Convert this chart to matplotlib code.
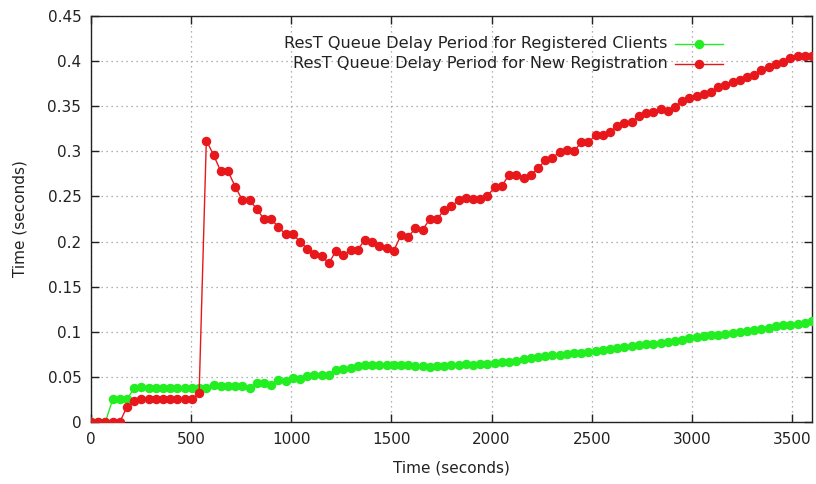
import numpy as np
import matplotlib
matplotlib.use("Agg")
import matplotlib.pyplot as plt
from matplotlib.ticker import FuncFormatter

# sample interval of the queue monitor (seconds)
STEP = 36

registered = [
    0, 0, 0, 0.025, 0.025, 0.025, 0.038, 0.039, 0.038, 0.038, 0.038, 0.038,
    0.038, 0.038, 0.038, 0.038,
    0.038, 0.041, 0.040, 0.040, 0.040, 0.040, 0.038, 0.043, 0.043, 0.041,
    0.047, 0.045, 0.049, 0.048, 0.051, 0.052, 0.052, 0.052,
    0.058, 0.059, 0.060, 0.062, 0.063, 0.063, 0.063, 0.063, 0.063, 0.063,
    0.063, 0.062, 0.062, 0.061, 0.062, 0.062, 0.063, 0.063, 0.064, 0.063,
    0.064, 0.064,
    0.065, 0.066, 0.067, 0.068, 0.070, 0.071, 0.072, 0.073, 0.074, 0.074,
    0.075, 0.076, 0.077, 0.078, 0.079,
    0.080, 0.081, 0.082, 0.083, 0.084, 0.085, 0.086, 0.087, 0.088, 0.089,
    0.090, 0.091,
    0.093, 0.094,
    0.095, 0.096, 0.097, 0.098, 0.099, 0.100, 0.101, 0.102, 0.103, 0.104,
    0.106, 0.107, 0.108, 0.109, 0.110, 0.112,
]

new_registration = [
    0, 0, 0, 0, 0, 0.017, 0.023, 0.025, 0.025, 0.025, 0.025, 0.025, 0.025,
    0.025, 0.025, 0.032,
    0.312, 0.296, 0.278, 0.278, 0.261, 0.246, 0.246, 0.236, 0.225, 0.225,
    0.216, 0.208, 0.208, 0.200, 0.192, 0.186, 0.184, 0.176,
    0.190, 0.185, 0.191, 0.191, 0.202, 0.200, 0.195, 0.193, 0.190,
    0.207, 0.205, 0.215, 0.213, 0.225, 0.225, 0.235,
    0.239, 0.246, 0.248, 0.247, 0.247, 0.251, 0.260, 0.262, 0.274, 0.274,
    0.270, 0.274, 0.281, 0.290, 0.293, 0.299, 0.302,
    0.300, 0.310, 0.310, 0.318, 0.318, 0.321, 0.328, 0.331, 0.332, 0.339,
    0.343, 0.344, 0.347, 0.345, 0.349, 0.356, 0.359,
    0.361, 0.364, 0.366, 0.371, 0.374, 0.377, 0.379, 0.382, 0.385, 0.390,
    0.393, 0.397, 0.399, 0.403, 0.406, 0.406, 0.406,
]

labels = [
    "ResT Queue Delay Period for Registered Clients",
    "ResT Queue Delay Period for New Registration",
]
colours = ["#22ee22", "#e8171b"]

x_green = np.arange(len(registered)) * STEP
x_red = np.arange(len(new_registration)) * STEP

plt.rcParams["font.family"] = ["DejaVu Sans"]
fig = plt.figure(figsize=(8.16, 4.84), dpi=100)
ax = fig.add_axes([0.1115, 0.128, 0.8835, 0.839])

series = [(x_green, registered), (x_red, new_registration)]
for (xs, ys), c in zip(series, colours):
    ax.plot(xs, ys, color=c, lw=1.0, marker="o", ms=5.8,
            mec=c, mfc=c, zorder=3)

ax.set_xlim(0, 3600)
ax.set_ylim(0, 0.45)
ax.set_xticks(np.arange(0, 3501, 500))
ax.set_yticks(np.arange(0, 0.451, 0.05))
ax.yaxis.set_major_formatter(FuncFormatter(lambda v, p: "%g" % round(v, 2)))
ax.tick_params(direction="in", length=6, width=1.0, top=True, right=True,
               labelsize=11, colors="#222222", pad=7)
for s in ax.spines.values():
    s.set_color("#222222")
    s.set_linewidth(1.0)
ax.grid(True, color="#999999", linestyle=(0, (1, 3)), linewidth=0.9)

ax.set_xlabel("Time (seconds)", fontsize=11, color="#222222", labelpad=10)
ax.set_ylabel("Time (seconds)", fontsize=11, color="#222222", labelpad=14)

# gnuplot-style key: right-aligned text followed by a line sample
for k, (lab, c) in enumerate(zip(labels, colours)):
    y = 0.932 - k * 0.05
    ax.text(0.800, y, lab, transform=ax.transAxes, ha="right", va="center",
            fontsize=11.6, color="#222222")
    ax.plot([0.810, 0.876], [y, y], transform=ax.transAxes, color=c,
            lw=1.0, clip_on=False)
    ax.plot([0.843], [y], transform=ax.transAxes, color=c, marker="o",
            ms=5.8, clip_on=False)

fig.savefig("out.png", dpi=100)
